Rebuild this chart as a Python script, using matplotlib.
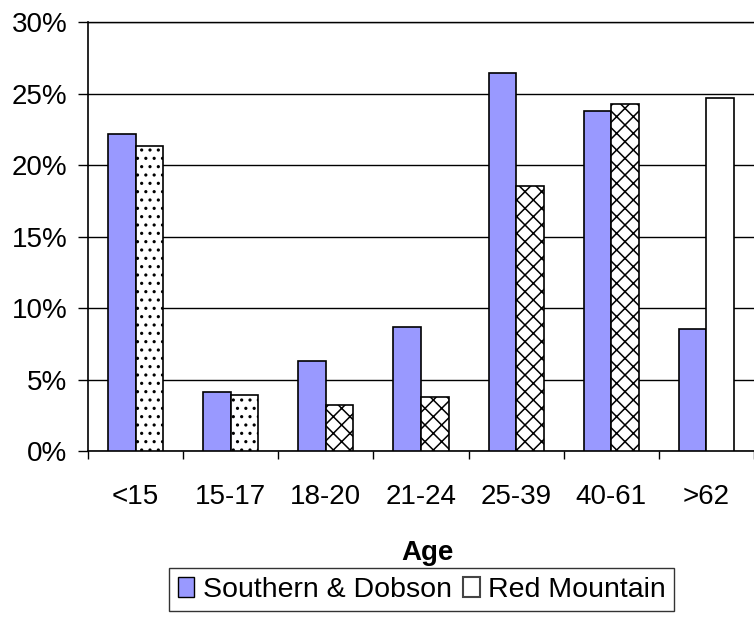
import numpy as np
import matplotlib.pyplot as plt
from matplotlib.patches import Patch
from matplotlib.ticker import FuncFormatter

plt.rcParams['font.family'] = ['Liberation Sans', 'DejaVu Sans']
plt.rcParams['hatch.linewidth'] = 1.1

# Data (percent)
age_groups = ['<15', '15-17', '18-20', '21-24', '25-39', '40-61', '>62']
southern_dobson = [22.2, 4.1, 6.3, 8.7, 26.4, 23.8, 8.5]
red_mountain = [21.3, 3.9, 3.2, 3.8, 18.5, 24.3, 24.7]

# hatch of each Red Mountain bar as drawn in the original
rm_hatches = ['..', '..', 'xx', 'xx', 'xx', 'xx', '']

fig = plt.figure(figsize=(7.54, 6.18), dpi=100)
ax = fig.add_axes([88/754, 1 - 451/618, 666/754, (451 - 22)/618])

x = np.arange(len(age_groups))
w = 0.29
ax.bar(x - w/2, southern_dobson, w, color='#9999FF', edgecolor='black',
       linewidth=1.2, zorder=3)
rm_bars = ax.bar(x + w/2, red_mountain, w, color='white', edgecolor='black',
                 linewidth=1.2, zorder=3)
for bar, h in zip(rm_bars, rm_hatches):
    bar.set_hatch(h)

ax.set_xlim(-0.5, len(age_groups) - 0.5)
ax.set_ylim(0, 30)
ax.set_yticks(np.arange(0, 31, 5))
ax.yaxis.set_major_formatter(FuncFormatter(lambda v, p: f'{v:.0f}%'))
ax.grid(axis='y', color='black', linewidth=1.0, zorder=0)

ax.set_xticks(x)
ax.set_xticklabels(age_groups)
ax.set_xticks(np.arange(-0.5, len(age_groups)), minor=True)
ax.tick_params(axis='x', which='major', length=0, pad=24, labelsize=20)
ax.tick_params(axis='x', which='minor', length=6, width=1, direction='out')
ax.tick_params(axis='y', length=7, width=1, direction='out', labelsize=20, pad=8)

ax.spines['right'].set_visible(False)
ax.spines['top'].set_linewidth(1.0)
ax.spines['left'].set_linewidth(1.2)
ax.spines['bottom'].set_linewidth(1.2)

ax.set_xlabel('Age', fontsize=20, fontweight='bold')
ax.xaxis.set_label_coords((427 - 88)/666, (451 - 566)/429)
ax.xaxis.label.set_va('bottom')

handles = [Patch(facecolor='#9999FF', edgecolor='black', label='Southern & Dobson'),
           Patch(facecolor='white', edgecolor='#444444', linewidth=1.5, label='Red Mountain')]
fig.legend(handles=handles, loc='upper left', bbox_to_anchor=(169/754, 1 - 568/618),
           ncol=2, fontsize=20.5, frameon=True, fancybox=False, edgecolor='black',
           handlelength=0.58, handleheight=0.7, handletextpad=0.3, columnspacing=0.4,
           borderpad=0.3, borderaxespad=0)

fig.savefig('out.png', dpi=100)
